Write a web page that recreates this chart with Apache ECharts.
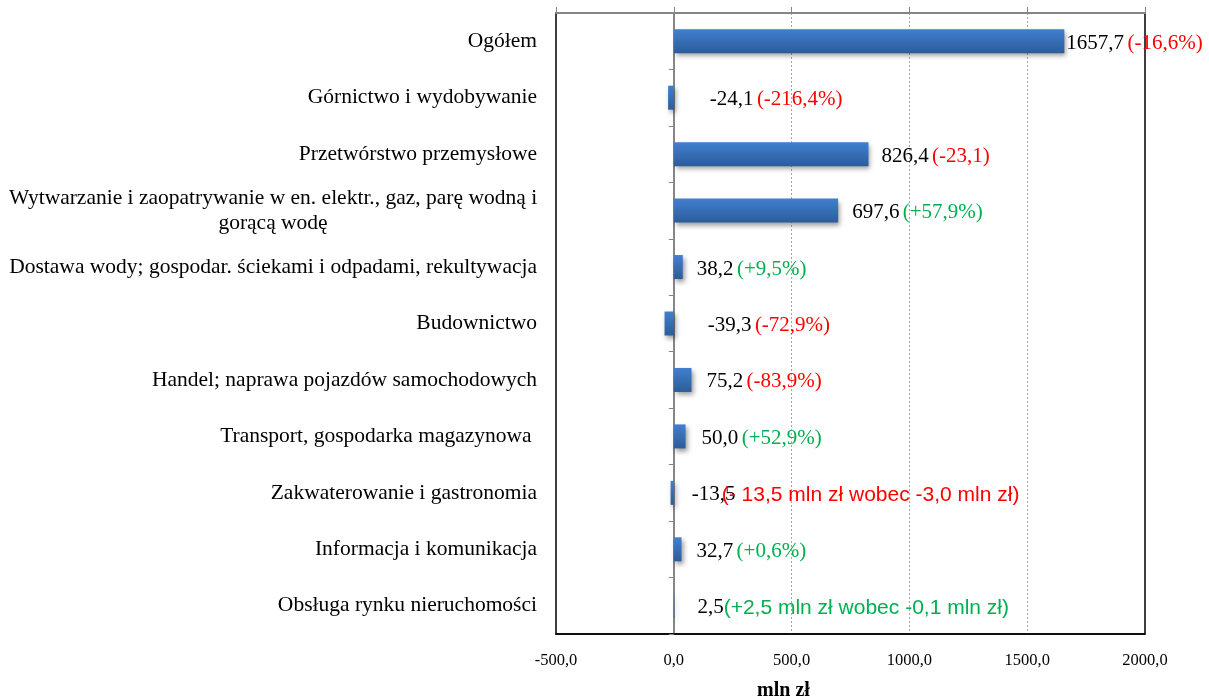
<!DOCTYPE html>
<html>
<head>
<meta charset="utf-8">
<script src="https://cdn.jsdelivr.net/npm/echarts@6/dist/echarts.min.js"></script>
<style>
  html, body { margin: 0; padding: 0; background: #fff; }
  #chart { width: 1209px; height: 699px; }
</style>
</head>
<body>
<div id="chart"></div>
<script>
// kategorie (od góry)
const categories = [
  "Ogółem",
  "Górnictwo i wydobywanie",
  "Przetwórstwo przemysłowe",
  "Wytwarzanie i zaopatrywanie w en. elektr., gaz, parę wodną i\ngorącą wodę",
  "Dostawa wody; gospodar. ściekami i odpadami, rekultywacja",
  "Budownictwo",
  "Handel; naprawa pojazdów samochodowych",
  "Transport, gospodarka magazynowa ",
  "Zakwaterowanie i gastronomia",
  "Informacja i komunikacja",
  "Obsługa rynku nieruchomości"
];
// wartości w mln zł
const values = [1657.7, -24.1, 826.4, 697.6, 38.2, -39.3, 75.2, 50.0, -13.5, 32.7, 2.5];
// opisy zmian
const changes = [
  "(-16,6%)", "(-216,4%)", "(-23,1)", "(+57,9%)", "(+9,5%)", "(-72,9%)",
  "(-83,9%)", "(+52,9%)", "(- 13,5 mln zł wobec -3,0 mln zł)", "(+0,6%)",
  "(+2,5 mln zł wobec -0,1 mln zł)"
];
const axisTicks = [-500, 0, 500, 1000, 1500, 2000];

// odstęp etykiety od słupka
const labelGap = [2, 36, 13, 14, 14, 34, 15, 16, 18, 15, 23];

const fmt = (v) => v.toFixed(1).replace(".", ",");

const chart = echarts.init(document.getElementById("chart"));

const barColor = new echarts.graphic.LinearGradient(0, 0, 0, 1, [
  { offset: 0, color: "#4080d0" },
  { offset: 1, color: "#2c5c9a" },
]);

const option = {
  animation: false,
  grid: {
    left: 556,
    right: 64,
    top: 13,
    bottom: 65,
    outerBoundsMode: "none",
    show: true,
    borderColor: "#000",
    borderWidth: 1.5,
  },
  xAxis: [
    {
      type: "value",
      position: "bottom",
      min: axisTicks[0],
      max: axisTicks[axisTicks.length - 1],
      interval: 500,
      axisLine: { show: true, lineStyle: { color: "#000", width: 1.5 } },
      axisTick: { show: false },
      axisLabel: {
        margin: 18,
        fontFamily: "Liberation Serif",
        fontSize: 16.5,
        color: "#000",
        formatter: (v) => fmt(v),
      },
      splitLine: {
        show: true,
        showMinLine: false,
        showMaxLine: false,
        lineStyle: { color: "#a6a6a6", type: [2, 2], width: 1 },
      },
      name: "mln zł",
      nameLocation: "middle",
      nameGap: 47,
      nameTextStyle: {
        fontFamily: "Liberation Serif",
        fontWeight: "bold",
        fontSize: 20,
        color: "#000",
        padding: [0, 134, 0, 0],
      },
    },
    {
      type: "value",
      position: "top",
      min: axisTicks[0],
      max: axisTicks[axisTicks.length - 1],
      interval: 500,
      axisLine: { show: true, lineStyle: { color: "#868686", width: 2 } },
      axisTick: { show: true, length: 6, lineStyle: { color: "#868686", width: 1 } },
      axisLabel: { show: false },
      splitLine: { show: false },
    },
  ],
  yAxis: {
    type: "category",
    inverse: true,
    data: categories,
    axisLine: { show: true, onZero: true, lineStyle: { color: "#868686", width: 2 } },
    axisTick: { show: true, length: 5, lineStyle: { color: "#868686", width: 1 } },
    axisLabel: {
      margin: 19,
      fontFamily: "Liberation Serif",
      fontSize: 21.5,
      color: "#000",
      lineHeight: 25,
      formatter: (v) => (v.indexOf("\n") >= 0 ? "{c|" + v + "}" : v),
      rich: {
        c: {
          width: 528,
          align: "center",
          fontFamily: "Liberation Serif",
          fontSize: 21.5,
          lineHeight: 25,
          color: "#000",
        },
      },
    },
  },
  series: [
    {
      type: "bar",
      barWidth: 24,
      data: values.map((v, i) => ({
        value: v,
        label: { distance: labelGap[i] },
      })),
      itemStyle: {
        color: barColor,
        shadowColor: "rgba(0,0,0,0.4)",
        shadowBlur: 5,
        shadowOffsetX: 2,
        shadowOffsetY: 3,
      },
      label: {
        show: true,
        position: "right",
        offset: [0, 2],
        formatter: (p) => {
          const note = changes[p.dataIndex];
          const neg = note.charAt(1) === "-";
          const sans = note.indexOf("mln") >= 0;
          const style = (neg ? "r" : "g") + (sans ? "s" : "");
          const v = sans && neg ? "{vn|" + fmt(p.value) + "}" : "{v|" + fmt(p.value) + "}";
          return v + (sans ? "" : " ") + "{" + style + "|" + note + "}";
        },
        rich: {
          v: { fontFamily: "Liberation Serif", fontSize: 21, color: "#000" },
          vn: { fontFamily: "Liberation Serif", fontSize: 21, color: "#000", width: 30 },
          r: { fontFamily: "Liberation Serif", fontSize: 21, color: "#ff0000" },
          g: { fontFamily: "Liberation Serif", fontSize: 21, color: "#00b050" },
          rs: { fontFamily: "Liberation Sans", fontSize: 21, color: "#ff0000" },
          gs: { fontFamily: "Liberation Sans", fontSize: 21, color: "#00b050" },
        },
      },
    },
  ],
};

chart.setOption(option);
</script>
</body>
</html>
